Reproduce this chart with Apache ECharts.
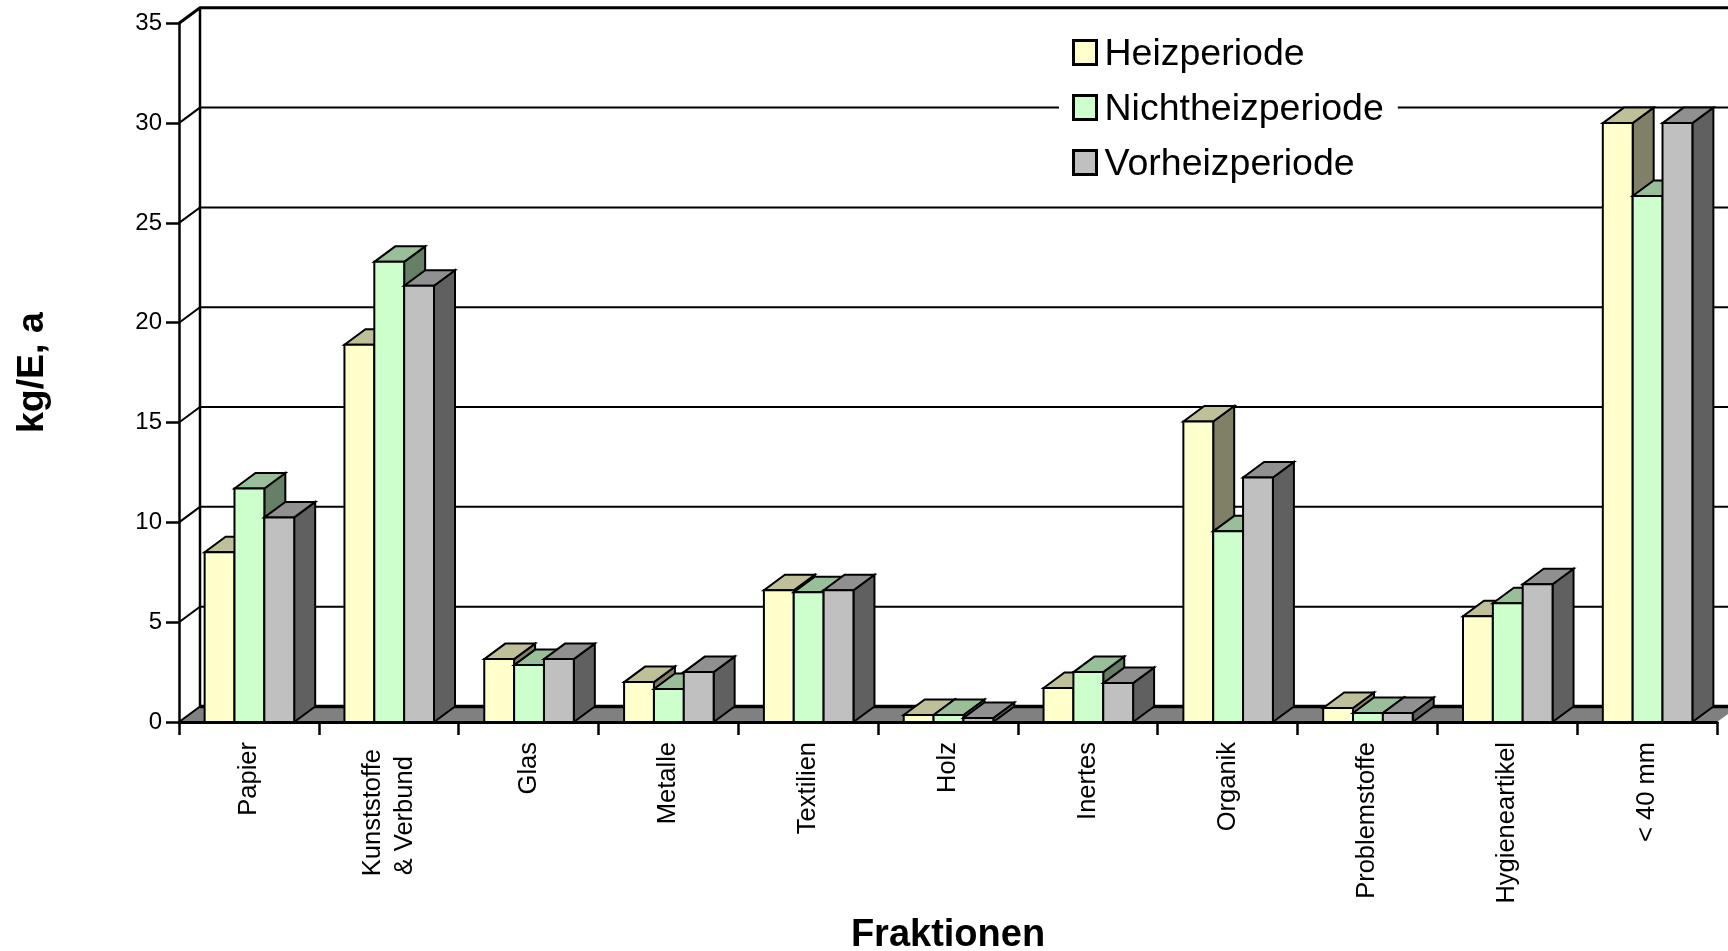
<!DOCTYPE html>
<html><head><meta charset="utf-8">
<style>html,body{margin:0;padding:0;background:#fff;overflow:hidden}#c{width:1728px;height:951px}</style>
<script src="https://cdn.jsdelivr.net/npm/echarts@6/dist/echarts.min.js"></script>
</head><body><div id="c"></div>
<script>
const categories = ['Papier','Kunststoffe\u00a0\n& Verbund\u00a0\u00a0','Glas','Metalle','Textilien','Holz','Inertes','Organik','Problemstoffe','Hygieneartikel','< 40 mm'];
const heizperiode = [8.5,18.9,3.15,2.0,6.6,0.35,1.7,15.05,0.7,5.3,30.0];
const nichtheizperiode = [11.7,23.05,2.85,1.65,6.5,0.35,2.5,9.55,0.45,5.95,26.35];
const vorheizperiode = [10.25,21.85,3.15,2.5,6.6,0.2,1.95,12.25,0.45,6.9,30.0];
const yTicks = [0,5,10,15,20,25,30,35];
const seriesNames = ['Heizperiode','Nichtheizperiode','Vorheizperiode'];
const faceColors = ['#FFFFCC','#CCFFCC','#C0C0C0'];
const topColors = ['#BFBF99','#99BF99','#909090'];
const sideColors = ['#808066','#668066','#606060'];

const DX = 21, DY = 15.5, BAR = 0.2135, FONT = 'Liberation Sans, Arial, sans-serif';
const chart = echarts.init(document.getElementById('c'), null, {renderer:'canvas'});
const edge = w => ({stroke:'#000', lineWidth:w, lineJoin:'miter'});

function wall(params, api){
  const cs = params.coordSys, v = api.value(1), y = api.coord([0,v])[1];
  const L = cs.x, R = cs.x + cs.width;
  const kids = [];
  if (v === 0){
    const top = api.coord([0,35])[1];
    kids.push({type:'polygon',shape:{points:[[L,y],[L+DX,y-DY],[R+DX,y-DY],[R,y]]},style:{fill:'#808080'}});
    kids.push({type:'line',shape:{x1:L+DX,y1:top-DY,x2:L+DX,y2:y-DY},style:edge(2.5)});
    kids.push({type:'line',shape:{x1:L,y1:y,x2:L+DX,y2:y-DY},style:edge(2)});
    kids.push({type:'line',shape:{x1:L+DX,y1:y-DY,x2:R+DX,y2:y-DY},style:edge(3.5)});
  } else {
    kids.push({type:'polyline',shape:{points:[[L,y],[L+DX,y-DY],[R+DX,y-DY]]},style:Object.assign({fill:'none'},edge(v===35?3:2))});
  }
  return {type:'group',children:kids};
}
function bar3d(i){
  return function(params, api){
    const c = api.coord([api.value(0), api.value(1)]);
    const base = api.coord([api.value(0), 0])[1];
    const w = api.size([1,0])[0]*BAR;
    const x0 = c[0] + (i-1.5)*w + 0.5, x1 = x0 + w, t = c[1];
    return {type:'group',children:[
      {type:'polygon',shape:{points:[[x1,base],[x1+DX,base-DY],[x1+DX,t-DY],[x1,t]]},style:Object.assign({fill:sideColors[i]},edge(2))},
      {type:'polygon',shape:{points:[[x0,t],[x0+DX,t-DY],[x1+DX,t-DY],[x1,t]]},style:Object.assign({fill:topColors[i]},edge(2))},
      {type:'rect',shape:{x:x0,y:t,width:w,height:base-t},style:Object.assign({fill:faceColors[i]},edge(2))}
    ]};
  };
}
const values = [heizperiode,nichtheizperiode,vorheizperiode];
chart.setOption({
  animation:false,
  backgroundColor:'#fff',
  textStyle:{fontFamily:FONT},
  grid:{left:179,top:23.3,width:1538,height:698.7,containLabel:false,outerBoundsMode:'none'},
  legend:{
    data:seriesNames, orient:'vertical', left:1059, top:28, z:20,
    backgroundColor:'#fff', padding:[8,14,8,13], itemWidth:23, itemHeight:24, itemGap:17,
    icon:'rect', selectedMode:false,
    itemStyle:{borderWidth:3},
    formatter:n=>'{t|'+n+'}',
    textStyle:{fontSize:37.5,color:'#000',fontFamily:FONT,
      rich:{t:{fontSize:37.5,color:'#000',fontFamily:FONT,padding:[5,0,0,3]}}}
  },
  xAxis:{
    type:'category', data:categories, z:10,
    boundaryGap:true,
    name:'Fraktionen', nameLocation:'middle', nameGap:195,
    nameTextStyle:{fontSize:38,fontWeight:'bold',color:'#000',fontFamily:FONT},
    axisLine:{show:true,lineStyle:{color:'#000',width:3}},
    axisTick:{show:true,length:13,lineStyle:{color:'#000',width:2.5}},
    axisLabel:{rotate:90,interval:0,margin:20,fontSize:25.5,lineHeight:32,color:'#000',fontFamily:FONT},
    splitLine:{show:false}
  },
  yAxis:{
    type:'value', min:0, max:35, interval:5, z:10,
    name:'kg/E, a', nameLocation:'middle', nameGap:127, nameRotate:90,
    nameTextStyle:{fontSize:37.5,fontWeight:'bold',color:'#000',fontFamily:FONT},
    axisLine:{show:true,lineStyle:{color:'#000',width:2.5}},
    axisTick:{show:true,length:13,lineStyle:{color:'#000',width:2.5}},
    axisLabel:{margin:17,fontSize:24,color:'#000',fontFamily:FONT,formatter:v=>String(v),showMinLabel:true,showMaxLabel:true,hideOverlap:false},
    splitLine:{show:false}
  },
  series:[
    {type:'custom',name:'wall',clip:false,z:1,silent:true,renderItem:wall,encode:{x:0,y:1},
     data:yTicks.map(v=>[0,v])}
  ].concat(seriesNames.map((n,i)=>({
    type:'custom',name:n,clip:false,z:3+i,renderItem:bar3d(i),encode:{x:0,y:1},
    itemStyle:{color:faceColors[i],borderColor:'#000',borderWidth:2.5},
    data:values[i].map((v,k)=>[k,v])
  })))
});
</script></body></html>
